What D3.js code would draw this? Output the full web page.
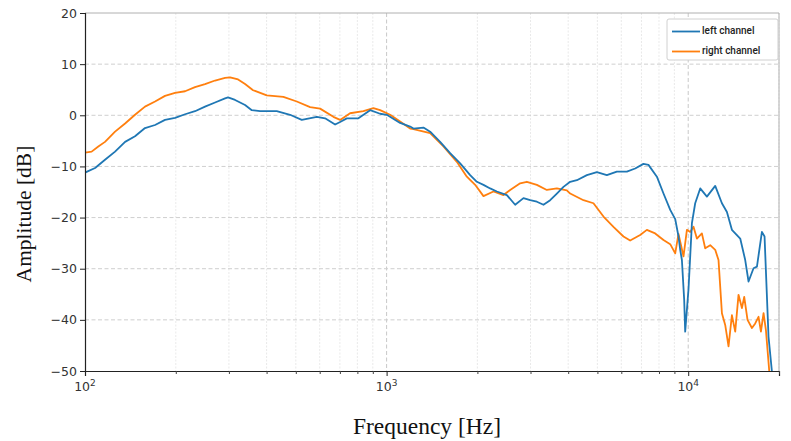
<!DOCTYPE html>
<html><head><meta charset="utf-8">
<script src="https://cdn.jsdelivr.net/npm/d3@7"></script>
<style>
html,body{margin:0;padding:0;background:#fff;}
svg{display:block;}
</style></head>
<body><svg id="chart" width="791" height="441"></svg>
<script>
const seriesNames = ["left channel", "right channel"];
const seriesColors = ["#1f77b4", "#ff7f0e"];

const leftFreq = [100,108,116.5,125.8,135.8,146.5,158.1,170.7,184.2,198.9,214.7,231.6,250,269.9,291.3,298.1,314.5,339.4,357.3,380.6,404.6,432.3,478.6,523.3,586.9,625.2,674.9,701.2,737.9,806.3,881.7,951.5,1001.6,1108.7,1196.7,1227.4,1324.8,1394.3,1504.8,1624.2,1753.3,1892.4,1991.9,2094.9,2204.7,2320.3,2504.6,2668.3,2842.8,2992.3,3149.3,3312.2,3486,3668.8,3858.5,4060.9,4273.8,4613.3,4979.8,5373,5799.9,6260.7,6669.8,7105.8,7382.6,7873.7,8280.5,8716.8,9056,9286,9409,9530,9698,9772,10023,10287,10548,10959,11535,12290,12935,13439,13960,14876,15453,15849,16466,16900,17555,17911,18463,18941];
const leftDb = [-11.2,-10.3,-8.7,-7.1,-5.2,-4.1,-2.5,-1.9,-0.9,-0.5,0.2,0.8,1.7,2.5,3.3,3.5,3.0,2.0,1.0,0.8,0.8,0.8,0.1,-0.9,-0.3,-0.6,-1.8,-1.3,-0.6,-0.6,1.0,0.3,0.1,-1.5,-2.2,-2.6,-2.4,-3.2,-5.2,-7.4,-9.4,-11.7,-13.0,-13.6,-14.3,-14.9,-15.6,-17.5,-16.2,-16.6,-16.9,-17.5,-16.6,-15.3,-14.0,-13.0,-12.7,-11.7,-11.1,-11.7,-11.0,-11.0,-10.4,-9.5,-9.7,-12.0,-15.3,-18.5,-20.3,-23.7,-26.3,-28.3,-36.1,-42.3,-34.0,-21.1,-17.2,-14.3,-15.9,-13.8,-17.2,-18.9,-22.4,-24.1,-28.3,-32.5,-29.9,-29.6,-22.8,-23.7,-43.3,-50];

const rightFreq = [100,105.2,110.7,116.5,125.8,135.8,146.5,158.1,170.7,184.2,198.9,214.7,231.6,250,269.9,291.3,302.7,321.8,339.4,360.8,400.6,454.7,503.8,557.6,601.8,666.1,701.2,756.7,837.7,904.1,951.5,1027.1,1108.7,1196.7,1227.4,1394.3,1543.3,1709.5,1845.3,1966.1,2094.9,2260.7,2440.3,2568.3,2772.3,2917.7,3149.3,3399,3668.8,3960.2,4060.9,4494.8,4851.9,5236.2,5651,6100,6420,6929.7,7293.1,7771,8280.5,8716.8,9056,9286,9647,9901,10153,10413,10686,11101,11385,11830,12290,12603,12935,13264,13604,13960,14318,14682,15069,15335,15729,16266,16680,17107,17422,17775,18100,18565];
const rightDb = [-7.3,-7.1,-6.1,-5.2,-3.2,-1.6,0.1,1.7,2.7,3.8,4.4,4.7,5.5,6.1,6.8,7.3,7.4,7.0,6.1,4.9,3.9,3.6,2.7,1.6,1.3,-0.3,-0.9,0.4,0.8,1.4,1.0,0.1,-1.2,-2.6,-2.7,-3.5,-6.1,-9.1,-12.0,-13.6,-15.8,-14.9,-15.6,-14.6,-13.3,-13.0,-13.6,-14.6,-14.3,-14.7,-15.3,-16.6,-17.2,-19.8,-21.8,-23.7,-24.5,-23.4,-22.4,-23.1,-24.4,-25.2,-27.0,-23.2,-27.6,-22.4,-22.8,-21.8,-24.1,-23.1,-26.0,-25.4,-26.3,-28.3,-38.7,-41.0,-45.2,-39.1,-42.3,-35.1,-37.7,-35.5,-40.0,-41.6,-40.7,-39.4,-42.3,-38.7,-42.0,-50];

const yTicks = [-50,-40,-30,-20,-10,0,10,20];
const xMajorTicks = [100,1000,10000];
const xMajorExp = ["2","3","4"];
const xMinorTicks = [200,300,400,500,600,700,800,900,2000,3000,4000,5000,6000,7000,8000,9000,20000];
const xDomain = [100,20000];
const yDomain = [-50,20];
const xTitle = "Frequency [Hz]";
const yTitle = "Amplitude [dB]";

const svg = d3.select("#chart");
const L = 85, R = 779, T = 13, B = 371;
const x = d3.scaleLog().domain(xDomain).range([L, R]);
const y = d3.scaleLinear().domain(yDomain).range([B, T]);

// grid
const g = svg.append("g");
g.selectAll("line.minor").data(xMinorTicks).enter().append("line")
  .attr("x1", d=>x(d)).attr("x2", d=>x(d)).attr("y1", T).attr("y2", B)
  .attr("stroke", "#e3e3e3").attr("stroke-width", 0.8).attr("stroke-dasharray", "2,1.5");
g.selectAll("line.major").data(xMajorTicks.slice(1)).enter().append("line")
  .attr("x1", d=>x(d)).attr("x2", d=>x(d)).attr("y1", T).attr("y2", B)
  .attr("stroke", "#c8c8c8").attr("stroke-width", 1).attr("stroke-dasharray", "4,2.5");
g.selectAll("line.h").data(yTicks.filter(d=>d>-50 && d<20)).enter().append("line")
  .attr("x1", L).attr("x2", R).attr("y1", d=>y(d)).attr("y2", d=>y(d))
  .attr("stroke", "#cfcfcf").attr("stroke-width", 1).attr("stroke-dasharray", "4,2.5");

// frame top/right
svg.append("line").attr("x1", L).attr("x2", R).attr("y1", T).attr("y2", T).attr("stroke", "#b0b0b0").attr("stroke-width", 1);
svg.append("line").attr("x1", R).attr("x2", R).attr("y1", T).attr("y2", B).attr("stroke", "#b0b0b0").attr("stroke-width", 1);

// lines
svg.append("defs").append("clipPath").attr("id", "clip").append("rect")
  .attr("x", L).attr("y", T).attr("width", R-L).attr("height", B-T);
const lineGen = d3.line().x(d=>x(d[0])).y(d=>y(d[1])).curve(d3.curveLinear);
const series = [d3.zip(leftFreq, leftDb), d3.zip(rightFreq, rightDb)];
const lg = svg.append("g").attr("clip-path", "url(#clip)");
[1,0].forEach(i => {
  lg.append("path").datum(series[i]).attr("d", lineGen)
    .attr("fill", "none").attr("stroke", seriesColors[i]).attr("stroke-width", 1.8)
    .attr("stroke-linejoin", "round");
});

// axes
const yAxis = d3.axisLeft(y).tickValues(yTicks).tickSize(5).tickPadding(3).tickFormat(d => d < 0 ? "\u2212" + Math.abs(d) : d);
const ya = svg.append("g").attr("transform", `translate(${L},0)`).call(yAxis);
ya.select(".domain").attr("stroke", "#222").attr("stroke-width", 1.2);
ya.selectAll(".tick line").attr("stroke", "#222");
ya.selectAll("text").attr("font-family", "DejaVu Sans, sans-serif").attr("font-size", 12.5).attr("fill", "#333");

const xAxis = d3.axisBottom(x).tickValues(xMajorTicks).tickSize(5).tickPadding(3).tickFormat(() => "");
const xa = svg.append("g").attr("transform", `translate(0,${B})`).call(xAxis);
xa.select(".domain").attr("stroke", "#222").attr("stroke-width", 1.2);
xa.selectAll(".tick line").attr("stroke", "#222");
const xMinorAxis = d3.axisBottom(x).tickValues(xMinorTicks).tickSize(3).tickFormat(() => "");
const xm = svg.append("g").attr("transform", `translate(0,${B})`).call(xMinorAxis);
xm.select(".domain").remove();
xm.selectAll(".tick line").attr("stroke", "#444");

const xl = svg.append("g");
xMajorTicks.forEach((t, i) => {
  const tx = xl.append("text").attr("x", x(t)).attr("y", 391).attr("text-anchor", "middle")
    .attr("font-family", "DejaVu Sans, sans-serif").attr("font-size", 12.5).attr("fill", "#333");
  tx.append("tspan").text("10");
  tx.append("tspan").attr("dy", -5).attr("font-size", 9).text(xMajorExp[i]);
});

// titles
svg.append("text").attr("x", 427).attr("y", 434).attr("text-anchor", "middle")
  .attr("font-family", "Liberation Serif, Times New Roman, serif").attr("font-size", 23.5).attr("fill", "#111").text(xTitle);
svg.append("text").attr("transform", "translate(31,214) rotate(-90)").attr("text-anchor", "middle")
  .attr("font-family", "Liberation Serif, Times New Roman, serif").attr("font-size", 21.5).attr("fill", "#111").text(yTitle);

// legend
const leg = svg.append("g");
leg.append("rect").attr("x", 667).attr("y", 19).attr("width", 111).attr("height", 41)
  .attr("fill", "#fff").attr("stroke", "#d0d0d0").attr("stroke-width", 1).attr("rx", 2);
seriesNames.forEach((n, i) => {
  const yy = 31.5 + i * 20;
  leg.append("line").attr("x1", 672).attr("x2", 700).attr("y1", yy).attr("y2", yy)
    .attr("stroke", seriesColors[i]).attr("stroke-width", 1.8);
  leg.append("text").attr("x", 702).attr("y", yy + 2.5).attr("font-family", "Roboto, sans-serif")
    .attr("font-size", 10).attr("font-weight", 500).attr("fill", "#222").text(n);
});
</script></body></html>
